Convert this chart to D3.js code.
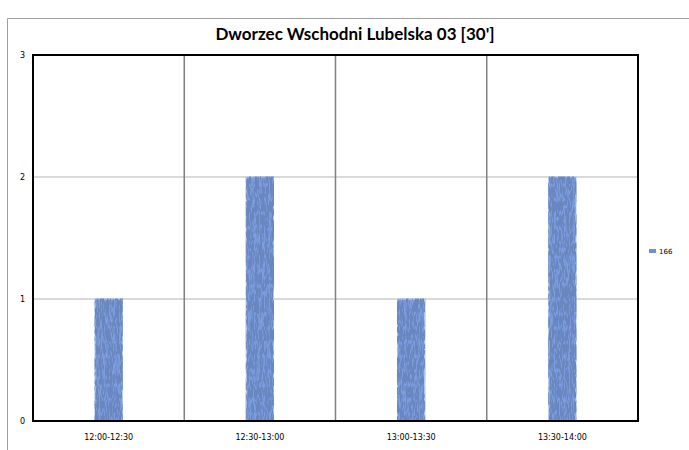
<!DOCTYPE html>
<meta charset="utf-8">
<head>
    <style>
        body { margin: 0; background: #fff; }
        .title { font-family: Lato, 'Open Sans', sans-serif; font-size: 17px; font-weight: 700; text-anchor: middle; fill: #000; }
        .tick-label { font-family: 'DejaVu Sans', sans-serif; font-size: 8px; fill: #000; }
        .legend-label { font-family: 'DejaVu Sans', sans-serif; font-size: 7px; fill: #000; }
    </style>
</head>
<script src="https://d3js.org/d3.v7.min.js"></script>
<div id="chart"></div>
<script>
    // data
    const categories = ["12:00-12:30", "12:30-13:00", "13:00-13:30", "13:30-14:00"];
    const values = [1, 2, 1, 2];
    const seriesName = "166";
    const yTicks = [0, 1, 2, 3];

    const W = 689, H = 450;
    const plot = { left: 33, top: 55, right: 638, bottom: 421 };

    const svg = d3.select("#chart").append("svg")
        .attr("width", W).attr("height", H);

    // bar texture (noise streaks over a blue fill)
    const defs = svg.append("defs");
    const f = defs.append("filter").attr("id", "tex")
        .attr("filterUnits", "userSpaceOnUse")
        .attr("x", 0).attr("y", 0).attr("width", W).attr("height", H);
    f.append("feTurbulence").attr("type", "turbulence")
        .attr("baseFrequency", "0.4 0.07").attr("numOctaves", 2).attr("seed", 7).attr("result", "n");
    f.append("feColorMatrix").attr("in", "n").attr("type", "matrix")
        .attr("values", "0 0 0 0 0.14  0 0 0 0 0.24  0 0 0 0 0.52  4.5 0 0 0 -0.25")
        .attr("result", "dark");
    f.append("feComposite").attr("in", "dark").attr("in2", "SourceGraphic").attr("operator", "in").attr("result", "d2");
    f.append("feMerge").call(m => {
        m.append("feMergeNode").attr("in", "SourceGraphic");
        m.append("feMergeNode").attr("in", "d2");
    });

    // outer frame
    svg.append("path")
        .attr("d", `M7.5,${H} V18.5 H${W}`)
        .attr("fill", "none").attr("stroke", "#a0a0a0").attr("stroke-width", 1);

    svg.append("text").attr("class", "title")
        .attr("x", 355).attr("y", 40)
        .text("Dworzec Wschodni Lubelska 03 [30']");

    const x = d3.scaleBand().domain(categories).range([plot.left, plot.right]);
    const y = d3.scaleLinear().domain([0, 3]).range([plot.bottom, plot.top]);

    // horizontal gridlines
    svg.append("g").selectAll("line").data(yTicks.slice(1, -1)).join("line")
        .attr("x1", plot.left).attr("x2", plot.right)
        .attr("y1", d => y(d)).attr("y2", d => y(d))
        .attr("stroke", "#b4b4b4").attr("stroke-width", 1);

    // vertical gridlines between categories
    svg.append("g").selectAll("line").data(categories.slice(1)).join("line")
        .attr("x1", d => x(d)).attr("x2", d => x(d))
        .attr("y1", plot.top).attr("y2", plot.bottom)
        .attr("stroke", "#808080").attr("stroke-width", 1.5);

    // bars
    const bw = x.bandwidth() * 0.18;
    svg.append("g").attr("filter", "url(#tex)")
        .selectAll("rect").data(values).join("rect")
        .attr("x", (d, i) => x(categories[i]) + x.bandwidth() / 2 - bw / 2)
        .attr("width", bw)
        .attr("y", d => y(d))
        .attr("height", d => y(0) - y(d))
        .attr("fill", "#7d9fe2")
        .attr("stroke", "#b8ccf2").attr("stroke-width", 1);

    // plot border
    svg.append("rect")
        .attr("x", plot.left).attr("y", plot.top)
        .attr("width", plot.right - plot.left).attr("height", plot.bottom - plot.top)
        .attr("fill", "none").attr("stroke", "#000").attr("stroke-width", 2);

    // y axis labels
    svg.append("g").selectAll("text").data(yTicks).join("text")
        .attr("class", "tick-label")
        .attr("x", 25).attr("y", d => y(d) + 3)
        .attr("text-anchor", "end")
        .text(d => d);

    // x axis labels
    svg.append("g").selectAll("text").data(categories).join("text")
        .attr("class", "tick-label")
        .attr("x", d => x(d) + x.bandwidth() / 2).attr("y", 440)
        .attr("text-anchor", "middle")
        .text(d => d);

    // legend
    svg.append("rect").attr("x", 649).attr("y", 249).attr("width", 7).attr("height", 4)
        .attr("fill", "#6f8fd4");
    svg.append("text").attr("class", "legend-label")
        .attr("x", 659).attr("y", 254).text(seriesName);
</script>
